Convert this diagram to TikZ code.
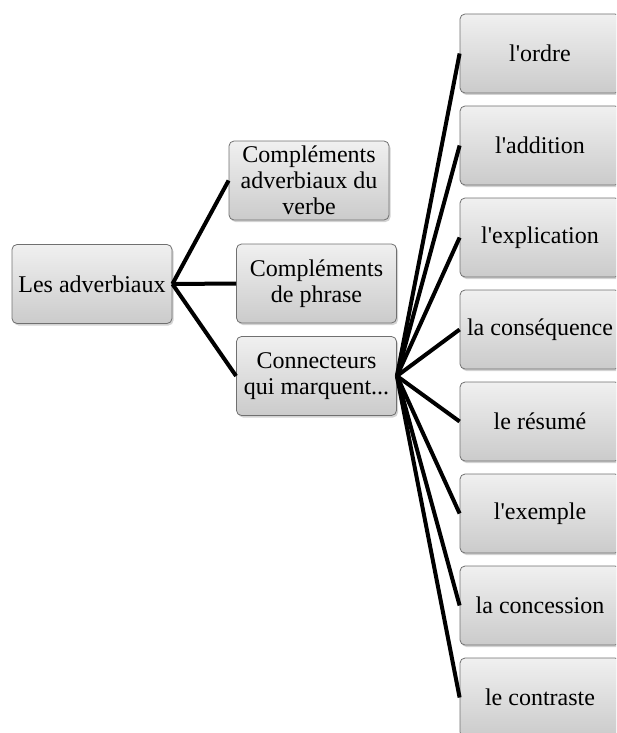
\documentclass[tikz,border=0pt]{standalone}
\usepackage{fontspec}
\setmainfont{Liberation Serif}[Ligatures=TeXOff]
\usepackage{xcolor}
\definecolor{advtop}{HTML}{F0F0F0}
\definecolor{advbottom}{HTML}{CBCBCB}
\definecolor{advedge}{HTML}{707070}
\usepackage{tikz}
\usetikzlibrary{shadows}

\begin{document}
\begin{tikzpicture}[x=1pt, y=-1pt,
  item/.style={rectangle, rounded corners=5pt, draw=advedge, line width=0.8pt,
    top color=advtop, bottom color=advbottom,
    drop shadow={opacity=0.35, shadow xshift=1.5pt, shadow yshift=-2pt},
    minimum width=160pt, minimum height=79pt, inner sep=1pt, align=center,
    font=\fontsize{24}{26}\selectfont},
  link/.style={line width=4pt, black}
]
\useasboundingbox (0,0) rectangle (616,733);
\clip (0,0) rectangle (616,733);
\node[item] (root) at (92, 284) {Les adverbiaux};
\node[item] (verbe) at (309, 180.5) {Compléments\\adverbiaux du\\verbe};
\node[item] (phrase) at (316.5, 283.5) {Compléments\\de phrase};
\node[item] (connect) at (316.5, 376) {Connecteurs\\qui marquent...};
\node[item] (ordre) at (540, 53.5) {l'ordre};
\node[item] (addition) at (540, 145.5) {l'addition};
\node[item] (explication) at (540, 237.5) {l'explication};
\node[item] (consequence) at (540, 329.5) {la conséquence};
\node[item] (resume) at (540, 421.5) {le résumé};
\node[item] (exemple) at (540, 513.5) {l'exemple};
\node[item] (concession) at (540, 605.5) {la concession};
\node[item] (contraste) at (540, 697.5) {le contraste};
% root to the three kinds
\draw[link] (root.east) -- (verbe.west);
\draw[link] (root.east) -- (phrase.west);
\draw[link] (root.east) -- (connect.west);
% connecteurs fan
\draw[link] (connect.east) -- (ordre.west);
\draw[link] (connect.east) -- (addition.west);
\draw[link] (connect.east) -- (explication.west);
\draw[link] (connect.east) -- (consequence.west);
\draw[link] (connect.east) -- (resume.west);
\draw[link] (connect.east) -- (exemple.west);
\draw[link] (connect.east) -- (concession.west);
\draw[link] (connect.east) -- (contraste.west);
\end{tikzpicture}
\end{document}
